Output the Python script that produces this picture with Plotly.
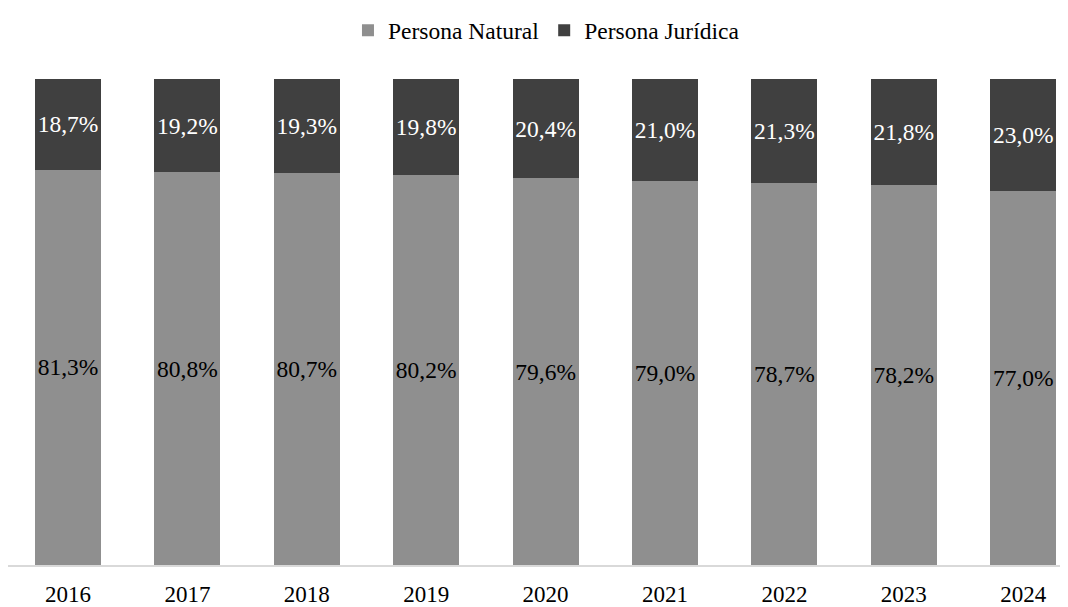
import plotly.graph_objects as go

years = ["2016", "2017", "2018", "2019", "2020", "2021", "2022", "2023", "2024"]
natural = [81.3, 80.8, 80.7, 80.2, 79.6, 79.0, 78.7, 78.2, 77.0]
juridica = [18.7, 19.2, 19.3, 19.8, 20.4, 21.0, 21.3, 21.8, 23.0]

def fmt(v):
    return f"{v:.1f}".replace(".", ",") + "%"

font_family = "Liberation Serif"
label_size = 23.5

fig = go.Figure()
fig.add_trace(go.Bar(
    x=years, y=natural, name="Persona Natural",
    marker=dict(color="#8f8f8f", line=dict(width=0)),
    text=[fmt(v) for v in natural], textposition="inside",
    insidetextanchor="middle", textangle=0,
    textfont=dict(family=font_family, size=label_size, color="#000000"),
    width=0.553,
))
fig.add_trace(go.Bar(
    x=years, y=juridica, name="Persona Jurídica",
    marker=dict(color="#404040", line=dict(width=0)),
    text=[fmt(v) for v in juridica], textposition="inside",
    insidetextanchor="middle", textangle=0,
    textfont=dict(family=font_family, size=label_size, color="#ffffff"),
    width=0.553,
))

fig.update_layout(
    barmode="stack",
    width=1060, height=599,
    margin=dict(l=0, r=0, t=66, b=37),
    paper_bgcolor="white", plot_bgcolor="white",
    font=dict(family=font_family, size=23, color="#000000"),
    uniformtext=dict(minsize=label_size, mode="show"),
    showlegend=True,
    legend=dict(orientation="h", traceorder="normal",
                x=0.508, xanchor="center", y=1.10, yanchor="middle",
                font=dict(size=23.5), itemwidth=30,
                bgcolor="rgba(0,0,0,0)"),
    xaxis=dict(type="category", range=[-0.5025, 8.375], showgrid=False,
               showline=True, linecolor="#d9d9d9", linewidth=2,
               ticks="outside", ticklen=7, tickcolor="rgba(0,0,0,0)",
               tickfont=dict(size=23, color="#000000")),
    yaxis=dict(range=[0, 100], visible=False, showgrid=False),
)

fig.write_html("out.html")
